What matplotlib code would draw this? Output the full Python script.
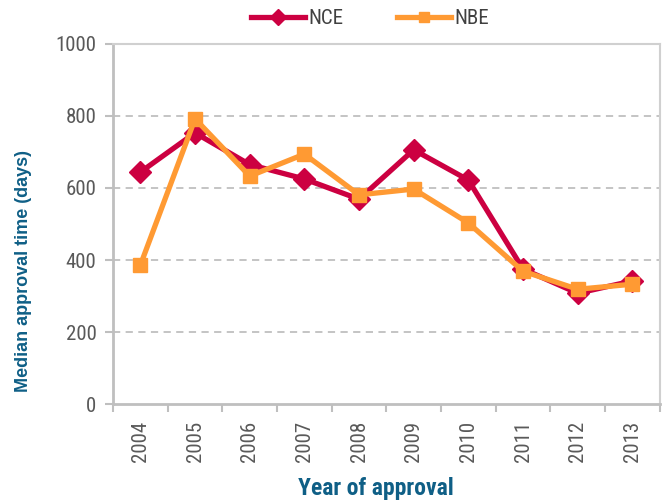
import matplotlib
matplotlib.use("Agg")
import matplotlib.pyplot as plt

years = ['2004', '2005', '2006', '2007', '2008', '2009', '2010', '2011', '2012', '2013']
nce_days = [644, 753, 665, 625, 569, 706, 622, 375, 308, 342]
nbe_days = [386, 792, 633, 694, 581, 597, 503, 369, 319, 333]
y_ticks = [0, 200, 400, 600, 800, 1000]

NARROW = ['Roboto Condensed', 'Liberation Sans', 'DejaVu Sans']
WIDE = ['Liberation Sans', 'DejaVu Sans']

NCE_COLOR = '#cc0041'
NBE_COLOR = '#ff9a33'
TEXT_BLUE = '#0f5f86'
TICK_GREY = '#595959'
GRID = '#bfbfbf'

fig = plt.figure(figsize=(6.65, 5.04), dpi=100)
ax = fig.add_axes([0.170, 0.198, 0.822, 0.715])

x = list(range(len(years)))
ax.plot(x, nce_days, color=NCE_COLOR, lw=3.8, marker='D', ms=11, label='NCE', zorder=3)
ax.plot(x, nbe_days, color=NBE_COLOR, lw=3.8, marker='s', ms=10, label='NBE', zorder=4)

ax.set_xlim(-0.5, len(years) - 0.5)
ax.set_ylim(0, 1000)
ax.set_yticks(y_ticks)
ax.set_yticklabels([str(v) for v in y_ticks], fontsize=15, color=TICK_GREY, family=NARROW)

# category labels centred, tick marks on the boundaries
ax.set_xticks(x)
ax.set_xticklabels(years, rotation=90, fontsize=15, color=TICK_GREY, family=NARROW)
ax.tick_params(axis='x', length=0, pad=12)
ax.set_xticks([i - 0.5 for i in range(len(years) + 1)], minor=True)
ax.tick_params(axis='x', which='minor', length=6, width=1.5, color=GRID)
ax.tick_params(axis='y', length=6, width=1.5, color=GRID, pad=6)

for v in y_ticks[1:-1]:
    ax.axhline(v, color=GRID, lw=1.3, ls=(0, (4, 3)), zorder=1)

for side in ['left', 'bottom']:
    ax.spines[side].set_color(GRID)
    ax.spines[side].set_linewidth(2)
for side in ['top', 'right']:
    ax.spines[side].set_color('#d0d0d0')
    ax.spines[side].set_linewidth(1.5)

fig.text(0.035, 0.462, 'Median approval time (days)', rotation=90, ha='center', va='center',
         fontsize=13, fontweight='bold', color=TEXT_BLUE, family=WIDE)
fig.text(0.565, 0.008, 'Year of approval', ha='center', va='bottom',
         fontsize=17, fontweight='bold', color=TEXT_BLUE, family=NARROW)

leg = ax.legend(loc='center', bbox_to_anchor=(0.47, 1.0 + 25 / 360), ncol=2, frameon=False,
                prop={'family': NARROW, 'size': 15}, handlelength=2.6, columnspacing=2.6,
                handletextpad=0.15, borderaxespad=0, markerscale=0.7)
for t in leg.get_texts():
    t.set_color('#404040')

fig.savefig('out.png', dpi=100)
